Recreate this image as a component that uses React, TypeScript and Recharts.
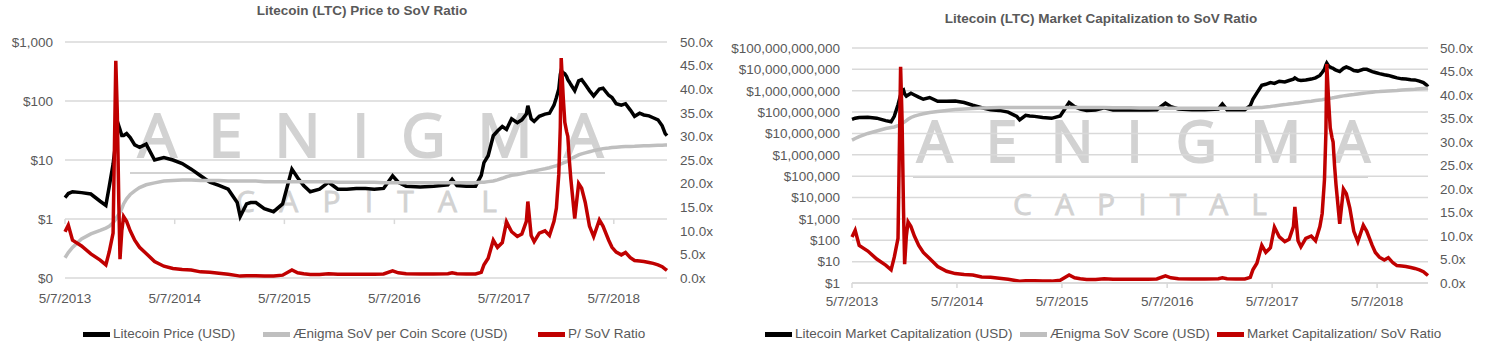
import React from "react";
import { LineChart, Line, XAxis, YAxis, CartesianGrid, ReferenceLine } from "recharts";

// sample dates (roughly monthly, denser around the spikes)
const dates = [
  "2013-05-07", "2013-05-18", "2013-06-01", "2013-07-01", "2013-08-01", "2013-09-01", "2013-09-20", "2013-10-01", "2013-10-14", "2013-10-23",
  "2013-10-28", "2013-11-02", "2013-11-06", "2013-11-12", "2013-11-18", "2013-11-28", "2013-12-10", "2013-12-25", "2014-01-10", "2014-02-01",
  "2014-03-01", "2014-04-01", "2014-05-01", "2014-06-01", "2014-07-01", "2014-08-01", "2014-09-01", "2014-10-01", "2014-11-01", "2014-12-01",
  "2014-12-11", "2015-01-01", "2015-01-15", "2015-02-01", "2015-03-01", "2015-04-01", "2015-05-01", "2015-06-01", "2015-06-20", "2015-07-10",
  "2015-08-01", "2015-09-01", "2015-10-01", "2015-11-01", "2015-12-01", "2016-01-01", "2016-02-01", "2016-03-01", "2016-04-01", "2016-05-01",
  "2016-05-20", "2016-06-15", "2016-08-01", "2016-09-15", "2016-11-01", "2016-11-15", "2016-12-01", "2017-01-01", "2017-02-01", "2017-02-20",
  "2017-03-01", "2017-03-15", "2017-04-01", "2017-04-15", "2017-05-01", "2017-05-15", "2017-06-01", "2017-06-20", "2017-07-05", "2017-07-20",
  "2017-07-25", "2017-08-05", "2017-08-15", "2017-09-01", "2017-09-20", "2017-10-05", "2017-10-20", "2017-10-28", "2017-11-05", "2017-11-10",
  "2017-11-13", "2017-11-20", "2017-11-25", "2017-12-01", "2017-12-05", "2017-12-10", "2017-12-15", "2017-12-28", "2018-01-10", "2018-01-20",
  "2018-02-01", "2018-02-15", "2018-03-01", "2018-03-20", "2018-04-01", "2018-04-20", "2018-05-01", "2018-05-15", "2018-06-01", "2018-06-15",
  "2018-07-01", "2018-07-15", "2018-08-01", "2018-08-15", "2018-09-01", "2018-09-15", "2018-10-01", "2018-10-15", "2018-10-25", "2018-10-31",
];

// Litecoin price (USD)
const ltcPrice = [
  2.3, 2.7, 2.9, 2.8, 2.65, 2.0, 1.7, 3.5, 8.5, 20,
  30, 38, 33, 26, 26, 28, 24, 18, 16.4, 18.6,
  10, 11, 10, 8.7, 7.0, 5.4, 4.2, 3.7, 3.2, 1.9,
  1.1, 1.8, 1.9, 1.9, 1.5, 1.33, 1.8, 7.0, 5.0, 3.7,
  2.9, 3.2, 4.2, 3.2, 3.2, 3.3, 3.3, 3.2, 3.3, 5.4,
  4.2, 3.6, 3.5, 3.6, 3.8, 4.7, 3.7, 3.6, 3.6, 5.5,
  9, 11.8, 25.8, 31, 37, 33, 50, 43, 48, 60,
  83, 50, 45, 55, 60, 62, 85, 115, 160, 280,
  327, 300, 290, 260, 230, 210, 190, 150, 220, 230,
  190, 150, 122, 160, 165, 125, 115, 90, 85, 90,
  70, 55, 62, 58, 56, 52, 48, 38, 28, 25.8,
];

// Ænigma SoV per coin score (USD)
const sovPerCoin = [
  0.22, 0.27, 0.33, 0.46, 0.56, 0.64, 0.7, 0.75, 0.86, 1.0,
  1.1, 1.2, 1.3, 1.5, 1.8, 2.2, 2.6, 3.0, 3.4, 3.8,
  4.1, 4.4, 4.5, 4.6, 4.6, 4.5, 4.5, 4.5, 4.4, 4.4,
  4.4, 4.4, 4.4, 4.4, 4.3, 4.3, 4.3, 4.3, 4.3, 4.3,
  4.3, 4.3, 4.3, 4.2, 4.2, 4.2, 4.2, 4.2, 4.1, 4.1,
  4.1, 4.1, 4.1, 4.1, 4.1, 4.1, 4.1, 4.1, 4.1, 4.2,
  4.2, 4.3, 4.4, 4.6, 4.9, 5.2, 5.5, 5.7, 5.9, 6.1,
  6.2, 6.4, 6.5, 6.8, 7.1, 7.4, 7.8, 8.0, 8.3, 8.5,
  8.6, 8.9, 9.1, 9.4, 9.6, 9.9, 10.5, 11.3, 12.2, 12.7,
  13.2, 13.8, 14.4, 15.1, 15.6, 16.0, 16.3, 16.5, 16.8, 16.9,
  17.0, 17.1, 17.3, 17.4, 17.5, 17.6, 17.7, 17.8, 17.9, 17.9,
];

// P / SoV ratio (x) - same series in both panels
const sovRatio = [
  9.8, 11.2, 8.0, 6.8, 5.1, 3.8, 2.8, 5.5, 9.5, 46,
  35, 16, 4, 10, 13, 12, 10, 8, 6.5, 5.2,
  3.5, 2.5, 2.0, 1.8, 1.7, 1.3, 1.2, 1.0, 0.8, 0.5,
  0.4, 0.5, 0.5, 0.5, 0.45, 0.4, 0.6, 1.7, 1.1, 0.9,
  0.75, 0.75, 0.9, 0.8, 0.8, 0.8, 0.8, 0.8, 0.85, 1.5,
  1.1, 0.9, 0.85, 0.85, 0.9, 1.1, 0.9, 0.85, 0.85, 1.2,
  2.8, 4.2, 8.0, 6.5, 7.5, 11.9, 9.8, 8.8, 9.3, 12,
  16.2, 9, 7.7, 9.5, 10, 9.0, 12, 14.8, 22, 32,
  46.6, 38, 33, 31, 30, 25, 21, 12.6, 20, 19,
  16, 11, 8.8, 12.3, 11, 8, 6.5, 5.5, 4.9, 5.4,
  4.3, 3.7, 3.6, 3.5, 3.3, 3.1, 2.8, 2.4, 1.9, 1.6,
];

// Litecoin market capitalization (USD)
const marketCap = [
  4.6e7, 5.2e7, 5.6e7, 5.8e7, 5.2e7, 4.0e7, 3.5e7, 6.3e7, 2.2e8, 6.3e8,
  1.0e9, 1.1e9, 7.1e8, 5.6e8, 6.3e8, 7.6e8, 6.3e8, 5.0e8, 4.0e8, 4.8e8,
  3.2e8, 3.2e8, 3.3e8, 2.8e8, 2.1e8, 1.6e8, 1.3e8, 1.2e8, 1.0e8, 6.3e7,
  4.3e7, 7.1e7, 6.6e7, 6.3e7, 5.6e7, 5.1e7, 6.6e7, 2.8e8, 1.8e8, 1.4e8,
  1.2e8, 1.26e8, 1.6e8, 1.26e8, 1.26e8, 1.26e8, 1.26e8, 1.26e8, 1.3e8, 2.6e8,
  1.8e8, 1.4e8, 1.3e8, 1.3e8, 1.4e8, 2.4e8, 1.3e8, 1.3e8, 1.3e8, 2.0e8,
  4.0e8, 7.9e8, 1.8e9, 2.0e9, 2.4e9, 2.2e9, 2.8e9, 2.6e9, 3.0e9, 3.5e9,
  4.0e9, 3.2e9, 3.0e9, 3.2e9, 3.5e9, 4.0e9, 5.2e9, 7.1e9, 1.0e10, 1.6e10,
  1.95e10, 1.4e10, 1.26e10, 1.17e10, 1.12e10, 1.0e10, 9.3e9, 7.9e9, 1.12e10, 1.3e10,
  1.12e10, 8.9e9, 8.3e9, 1.0e10, 1.0e10, 7.9e9, 7.1e9, 6.3e9, 5.6e9, 5.2e9,
  4.5e9, 4.0e9, 3.6e9, 3.5e9, 3.3e9, 3.2e9, 2.8e9, 2.4e9, 1.9e9, 1.55e9,
];

// Ænigma SoV score (USD)
const sovScore = [
  4.9e6, 5.8e6, 7.1e6, 1.0e7, 1.3e7, 1.7e7, 1.9e7, 2.0e7, 2.3e7, 2.6e7,
  2.9e7, 3.2e7, 3.5e7, 4.0e7, 4.6e7, 5.6e7, 6.5e7, 7.4e7, 8.3e7, 9.5e7,
  1.07e8, 1.2e8, 1.32e8, 1.41e8, 1.48e8, 1.55e8, 1.58e8, 1.62e8, 1.62e8, 1.62e8,
  1.62e8, 1.62e8, 1.62e8, 1.62e8, 1.62e8, 1.62e8, 1.62e8, 1.62e8, 1.62e8, 1.62e8,
  1.62e8, 1.62e8, 1.62e8, 1.58e8, 1.58e8, 1.58e8, 1.55e8, 1.55e8, 1.55e8, 1.51e8,
  1.51e8, 1.51e8, 1.51e8, 1.51e8, 1.51e8, 1.51e8, 1.51e8, 1.51e8, 1.51e8, 1.55e8,
  1.58e8, 1.62e8, 1.66e8, 1.74e8, 1.82e8, 1.95e8, 2.09e8, 2.24e8, 2.4e8, 2.5e8,
  2.57e8, 2.69e8, 2.82e8, 3.02e8, 3.24e8, 3.47e8, 3.72e8, 3.8e8, 3.98e8, 4.07e8,
  4.17e8, 4.37e8, 4.47e8, 4.57e8, 4.68e8, 4.79e8, 5.0e8, 5.37e8, 5.75e8, 6.03e8,
  6.31e8, 6.61e8, 7.08e8, 7.59e8, 7.94e8, 8.51e8, 8.91e8, 9.12e8, 9.55e8, 9.77e8,
  1.0e9, 1.02e9, 1.07e9, 1.1e9, 1.15e9, 1.17e9, 1.23e9, 1.26e9, 1.29e9, 1.32e9,
];

const yearTicks = ["2013-05-07", "2014-05-07", "2015-05-07", "2016-05-07", "2017-05-07", "2018-05-07"];
const priceTicks = [0.1, 1, 10, 100, 1000];
const capTicks = [1, 10, 100, 1e3, 1e4, 1e5, 1e6, 1e7, 1e8, 1e9, 1e10, 1e11];
const ratioTicks = [0, 5, 10, 15, 20, 25, 30, 35, 40, 45, 50];

const FONT = "'Liberation Sans', Arial, sans-serif";
const TEXT = "#595959";
const GRID = "#d9d9d9";
const MARK = "#d2d2d2";

const toTime = (s: string) => Date.parse(s + "T00:00:00Z");
const xStart = toTime(dates[0]);
const xEnd = toTime(dates[dates.length - 1]);
const yearTickTimes = yearTicks.map(toTime);

const fmtDate = (t: number) => {
  const d = new Date(t);
  return `${d.getUTCMonth() + 1}/${d.getUTCDate()}/${d.getUTCFullYear()}`;
};
const fmtUsd = (v: number) => (v < 1 ? "$0" : "$" + Math.round(v).toLocaleString("en-US"));
const fmtRatio = (v: number) => v.toFixed(1) + "x";

const priceData = dates.map((d, i) => ({ t: toTime(d), price: ltcPrice[i], sov: sovPerCoin[i], ratio: sovRatio[i] }));
const capData = dates.map((d, i) => ({ t: toTime(d), cap: marketCap[i], sov: sovScore[i], ratio: sovRatio[i] }));

const tickStyle = { fontSize: 13.5, fill: TEXT, fontFamily: FONT };

function LegendItem({ x, color, label }: { x: number; color: string; label: string }) {
  return (
    <div style={{ position: "absolute", left: x, top: 326, display: "flex", alignItems: "center", whiteSpace: "nowrap", fontFamily: FONT, fontSize: 13.5, color: TEXT, lineHeight: "16px" }}>
      <span style={{ display: "inline-block", width: 27, height: 5, background: color, marginRight: 3 }} />
      {label}
    </div>
  );
}

function Watermark() {
  const txt = { fill: MARK, stroke: MARK, fontFamily: "'Open Sans', 'DejaVu Sans', sans-serif", fontWeight: 400 } as const;
  return (
    <svg width={1490} height={354} style={{ position: "absolute", left: 0, top: 0 }}>
      <text x={138} y={157} fontSize={61} strokeWidth={2} textLength={465} lengthAdjust="spacing" {...txt}>AENIGMA</text>
      <rect x={130} y={172} width={475} height={2} fill={MARK} />
      <text x={236} y={212} fontSize={30} strokeWidth={0.8} textLength={261} lengthAdjust="spacing" {...txt}>CAPITAL</text>
      <text x={917} y={162} fontSize={56} strokeWidth={2} textLength={453} lengthAdjust="spacing" {...txt}>AENIGMA</text>
      <rect x={913} y={176} width={455} height={2} fill={MARK} />
      <text x={1013} y={215} fontSize={30} strokeWidth={0.8} textLength={254} lengthAdjust="spacing" {...txt}>CAPITAL</text>
    </svg>
  );
}

export default function App() {
  return (
    <div style={{ position: "absolute", left: 0, top: 0, width: 1490, height: 354, background: "#fff", overflow: "hidden" }}>
      <Watermark />

      <div style={{ position: "absolute", left: 0, top: 3, width: 724, textAlign: "center", fontFamily: FONT, fontWeight: "bold", fontSize: 13.5, color: TEXT, lineHeight: "16px" }}>
        Litecoin (LTC) Price to SoV Ratio
      </div>
      <div style={{ position: "absolute", left: 745, top: 11, width: 712, textAlign: "center", fontFamily: FONT, fontWeight: "bold", fontSize: 13.5, color: TEXT, lineHeight: "16px" }}>
        Litecoin (LTC) Market Capitalization to SoV Ratio
      </div>

      <div style={{ position: "absolute", left: 0, top: 0 }}>
        <LineChart width={720} height={320} data={priceData} margin={{ top: 42, right: 8, bottom: 12, left: 5 }}>
          <CartesianGrid yAxisId="price" vertical={false} stroke={GRID} strokeWidth={1.5} />
          <XAxis dataKey="t" type="number" domain={[xStart, xEnd]} ticks={yearTickTimes} tickFormatter={fmtDate} interval={0}
            axisLine={false} tickLine={false} tickMargin={9} height={30} tick={tickStyle} />
          <YAxis yAxisId="price" scale="log" domain={[0.1, 1000]} ticks={priceTicks} allowDataOverflow interval={0}
            tickFormatter={fmtUsd} axisLine={false} tickLine={false} tickMargin={6} width={60} tick={tickStyle} />
          <YAxis yAxisId="ratio" orientation="right" domain={[0, 50]} ticks={ratioTicks} interval={0}
            tickFormatter={fmtRatio} axisLine={false} tickLine={false} tickMargin={7} width={45} tick={tickStyle} />
          {yearTickTimes.map((t) => (
            <ReferenceLine key={t} yAxisId="price" segment={[{ x: t, y: 1 }, { x: t, y: 0.82 }]} stroke={GRID} strokeWidth={1.5} />
          ))}
          <Line yAxisId="price" dataKey="price" stroke="#000" strokeWidth={3.5} dot={false} isAnimationActive={false} />
          <Line yAxisId="price" dataKey="sov" stroke="#bfbfbf" strokeWidth={3.5} dot={false} isAnimationActive={false} />
          <Line yAxisId="ratio" dataKey="ratio" stroke="#c00000" strokeWidth={3.5} dot={false} isAnimationActive={false} />
        </LineChart>
      </div>

      <div style={{ position: "absolute", left: 720, top: 0 }}>
        <LineChart width={770} height={324} data={capData} margin={{ top: 48, right: 7, bottom: 11, left: 10 }}>
          <CartesianGrid yAxisId="cap" vertical={false} stroke={GRID} strokeWidth={1.5} />
          <XAxis dataKey="t" type="number" domain={[xStart, xEnd]} ticks={yearTickTimes} tickFormatter={fmtDate} interval={0}
            axisLine={{ stroke: GRID, strokeWidth: 1.5 }} tickLine={{ stroke: GRID, strokeWidth: 1.5 }} tickSize={5} tickMargin={8} height={30} tick={tickStyle} />
          <YAxis yAxisId="cap" scale="log" domain={[1, 1e11]} ticks={capTicks} allowDataOverflow interval={0}
            tickFormatter={fmtUsd} axisLine={false} tickLine={false} tickMargin={6} width={122} tick={tickStyle} />
          <YAxis yAxisId="ratio" orientation="right" domain={[0, 50]} ticks={ratioTicks} interval={0}
            tickFormatter={fmtRatio} axisLine={false} tickLine={false} tickMargin={6} width={55} tick={tickStyle} />
          <Line yAxisId="cap" dataKey="cap" stroke="#000" strokeWidth={3.5} dot={false} isAnimationActive={false} />
          <Line yAxisId="cap" dataKey="sov" stroke="#bfbfbf" strokeWidth={3.5} dot={false} isAnimationActive={false} />
          <Line yAxisId="ratio" dataKey="ratio" stroke="#c00000" strokeWidth={3.5} dot={false} isAnimationActive={false} />
        </LineChart>
      </div>

      <LegendItem x={83} color="#000" label="Litecoin Price (USD)" />
      <LegendItem x={263} color="#bfbfbf" label="Ænigma SoV per Coin Score (USD)" />
      <LegendItem x={538} color="#c00000" label="P/ SoV Ratio" />
      <LegendItem x={765} color="#000" label="Litecoin Market Capitalization (USD)" />
      <LegendItem x={1020} color="#bfbfbf" label="Ænigma SoV Score (USD)" />
      <LegendItem x={1217} color="#c00000" label="Market Capitalization/ SoV Ratio" />
    </div>
  );
}
